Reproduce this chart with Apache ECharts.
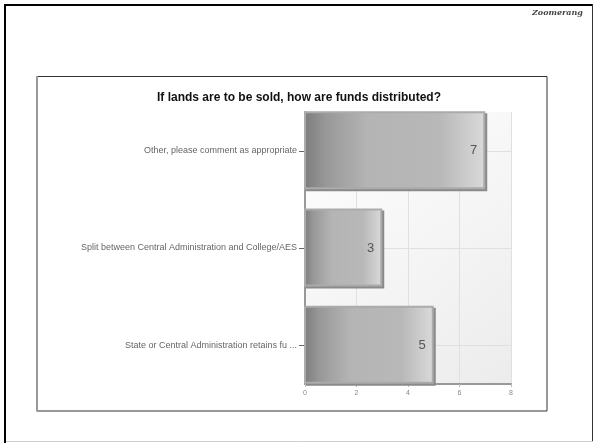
<!DOCTYPE html>
<html>
<head>
<meta charset="utf-8">
<script src="https://cdn.jsdelivr.net/npm/echarts@6/dist/echarts.min.js"></script>
<style>
html,body{margin:0;padding:0;background:#fff;}
#chart{width:594px;height:444px;}
</style>
</head>
<body>
<div id="chart"></div>
<script>
// ---- data ----
var titleText = 'If lands are to be sold, how are funds distributed?';
// index 0 = bottom row, 2 = top row
var categories = [
  'State or Central Administration retains fu ...',
  'Split between Central Administration and College/AES',
  'Other, please comment as appropriate'
];
var values = [5, 3, 7];
var xTicks = [0, 2, 4, 6, 8];

var chart = echarts.init(document.getElementById('chart'), null, {renderer: 'canvas'});

var seriesData = values.map(function (v, i) { return [v, i]; });

var barGradient = new echarts.graphic.LinearGradient(0, 0, 1, 0, [
  {offset: 0, color: '#7c7c7c'},
  {offset: 0.12, color: '#989898'},
  {offset: 0.35, color: '#b4b4b4'},
  {offset: 0.75, color: '#b8b8b8'},
  {offset: 1, color: '#dadada'}
]);

function renderBar(params, api) {
  var idx = api.value(1);
  var p0 = api.coord([0, idx]);
  var p1 = api.coord([api.value(0), idx]);
  var h = api.size([0, 0.793])[1];
  var x = p0[0], y = p0[1] - h / 2, w = p1[0] - p0[0];
  return {
    type: 'group',
    children: [
      {type: 'rect', shape: {x: x + 1, y: y + 1, width: w + 1, height: h + 1},
       style: {fill: '#8a8a8a'}},
      {type: 'rect', shape: {x: x, y: y, width: w - 1, height: h - 1},
       style: {fill: barGradient, stroke: '#ababab', lineWidth: 2}},
      {type: 'text', style: {
        x: p1[0] - 8, y: p1[1], text: String(api.value(0)),
        align: 'right', verticalAlign: 'middle',
        fontFamily: 'Liberation Sans, Arial, sans-serif', fontSize: 13,
        fill: '#555'
      }}
    ]
  };
}

var option = {
  animation: false,
  backgroundColor: '#ffffff',
  title: {
    text: titleText,
    left: 294, top: 87, textAlign: 'center',
    textStyle: {fontFamily: 'Liberation Sans, Arial, sans-serif', fontSize: 12, fontWeight: 'bold', color: '#111'}
  },
  graphic: [
    // outer frame
    {type: 'line', shape: {x1: 4, y1: 5, x2: 593, y2: 5}, style: {stroke: '#000', lineWidth: 2}},
    {type: 'line', shape: {x1: 5, y1: 4, x2: 5, y2: 443}, style: {stroke: '#000', lineWidth: 2}},
    {type: 'line', shape: {x1: 592.5, y1: 4, x2: 592.5, y2: 442}, style: {stroke: '#333', lineWidth: 1}},
    {type: 'line', shape: {x1: 6, y1: 441.5, x2: 593, y2: 441.5}, style: {stroke: '#cfcfcf', lineWidth: 1}},
    // inner box
    {type: 'rect', shape: {x: 36.5, y: 76.5, width: 510.5, height: 334.5}, style: {fill: null, stroke: '#333', lineWidth: 1}},
    {type: 'line', shape: {x1: 37, y1: 76, x2: 37, y2: 411}, style: {stroke: '#999', lineWidth: 2}},
    // logo
    {type: 'text', left: 532, top: 9, style: {text: 'Zoomerang', fontFamily: 'DejaVu Serif, serif', fontStyle: 'italic', fontWeight: 'bold', fontSize: 8, fill: '#444'}}
  ],
  grid: {
    left: 305, right: 83, top: 112, bottom: 60,
    show: true, borderWidth: 0,
    backgroundColor: new echarts.graphic.LinearGradient(0, 0, 1, 1, [
      {offset: 0, color: '#ffffff'},
      {offset: 1, color: '#ececec'}
    ])
  },
  xAxis: {
    type: 'value', min: 0, max: 8, interval: 2,
    axisLine: {show: true, onZero: false, lineStyle: {color: '#999', width: 2}},
    axisTick: {show: true, length: 3, lineStyle: {color: '#bbb'}},
    axisLabel: {fontFamily: 'Liberation Sans, Arial, sans-serif', fontSize: 7, color: '#888', margin: 6},
    splitLine: {show: true, lineStyle: {color: '#e0e0e0', width: 1}}
  },
  yAxis: {
    type: 'value', min: -0.4, max: 2.4,
    axisLine: {show: true, onZero: false, lineStyle: {color: '#999', width: 2}},
    axisTick: {show: true, length: 6, customValues: [0, 1, 2], lineStyle: {color: '#666'}},
    axisLabel: {
      customValues: [0, 1, 2],
      formatter: function (v) { return categories[Math.round(v)]; },
      fontFamily: 'Liberation Sans, Arial, sans-serif', fontSize: 9, color: '#666', margin: 8
    },
    splitLine: {show: true, lineStyle: {color: '#e0e0e0', width: 1}}
  },
  series: [{
    type: 'custom',
    renderItem: renderBar,
    data: seriesData,
    encode: {x: 0, y: 1},
    clip: false
  }]
};
chart.setOption(option);
</script>
</body>
</html>
